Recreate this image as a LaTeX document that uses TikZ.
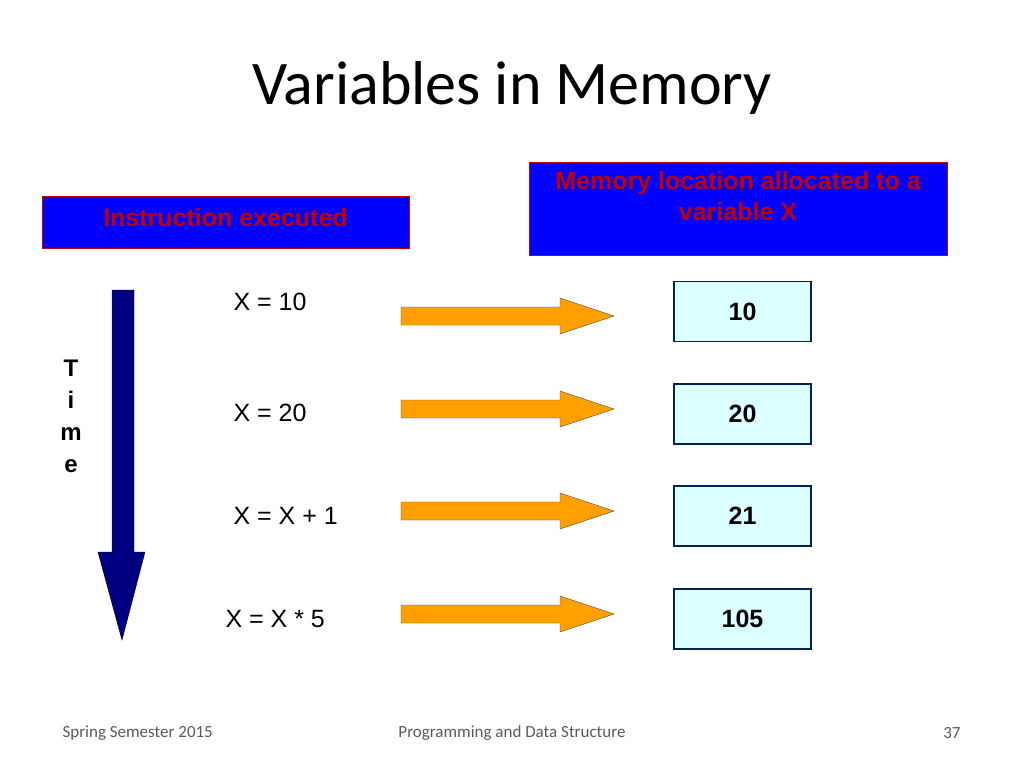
\documentclass[tikz,border=0pt]{standalone}
\usepackage{fontspec}
\setmainfont{Liberation Sans}
\newfontfamily\calfont{Carlito}
\definecolor{hdrblue}{RGB}{0,0,255}
\definecolor{hdrred}{RGB}{192,0,0}
\definecolor{navyfill}{RGB}{0,0,128}
\definecolor{cellfill}{RGB}{220,255,255}
\definecolor{cellline}{RGB}{0,32,96}
\definecolor{arrfill}{RGB}{255,160,0}
\definecolor{footgray}{RGB}{90,90,90}
\tikzset{
    header/.style={draw=hdrred, line width=1pt, fill=hdrblue},
    hdrtext/.style={text=hdrred, font=\bfseries\fontsize{25}{31}\selectfont, align=center},
    cell/.style={draw=cellline, line width=1.5pt, fill=cellfill, minimum width=137pt, minimum height=60pt, font=\bfseries\fontsize{25}{28}\selectfont},
    instr/.style={anchor=west, font=\fontsize{25}{28}\selectfont},
    fatarrow/.style={draw=black!70, fill=arrfill},
    foot/.style={font=\calfont\fontsize{17}{20}\selectfont, text=footgray},
}
\newcommand\orangearrow[2]{%
    \draw[fatarrow] (401,#1-9) -- (560,#1-9) -- (560,#1-18) -- (614,#1) -- (560,#1+18) -- (560,#1+9) -- (401,#1+9) -- cycle;
    \coordinate (#2) at (614,#1);}
\begin{document}
\begin{tikzpicture}[x=1pt,y=-1pt]
    \useasboundingbox (0,0) rectangle (1024,768);
    \node[font=\calfont\fontsize{62}{70}\selectfont] (title) at (512,88) {Variables in Memory};

    % headers
    \draw[header] (42,196) rectangle (409,248);
    \node[hdrtext] (instrhdr) at (225.5,218) {Instruction executed};
    \draw[header] (529,162) rectangle (947,255);
    \node[hdrtext, anchor=north] (memhdr) at (738,168) {Memory location allocated to a\\variable X};

    % time arrow
    \draw[fill=navyfill, draw=black] (112,290) -- (134,290) -- (134,552) -- (145,552) -- (122,640) -- (98,552) -- (112,552) -- cycle;
    \node[font=\bfseries\fontsize{24}{32}\selectfont, align=center, anchor=north] (time) at (71,356) {T\\i\\m\\e};

    % rows
    \node[instr] (i1) at (230,302) {X = 10};
    \node[instr] (i2) at (230,413) {X = 20};
    \node[instr] (i3) at (230,516) {X = X + 1};
    \node[instr] (i4) at (222,619) {X = X * 5};

    \orangearrow{316}{a1}
    \orangearrow{409}{a2}
    \orangearrow{511}{a3}
    \orangearrow{614}{a4}

    \node[cell] (v1) at (742.5,311.5) {10};
    \node[cell] (v2) at (742.5,414) {20};
    \node[cell] (v3) at (742.5,516) {21};
    \node[cell] (v4) at (742.5,619) {105};

    % footer
    \node[foot, anchor=west] (f1) at (59,733) {Spring Semester 2015};
    \node[foot] (f2) at (512,733) {Programming and Data Structure};
    \node[foot, anchor=east] (f3) at (964,733) {37};
\end{tikzpicture}
\end{document}
